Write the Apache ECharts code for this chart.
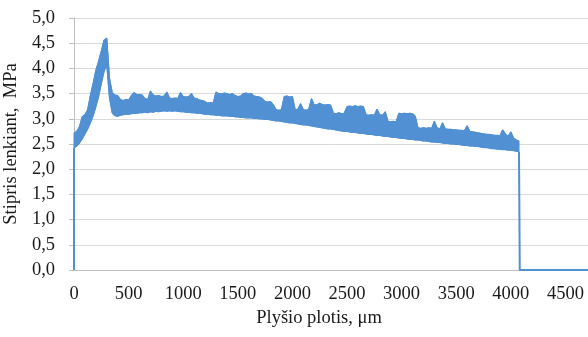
<!DOCTYPE html>
<html>
<head>
<meta charset="utf-8">
<script src="https://cdn.jsdelivr.net/npm/echarts@6/dist/echarts.min.js"></script>
<style>
  html, body { margin: 0; padding: 0; background: #fff; }
  #chart { width: 588px; height: 337px; }
</style>
</head>
<body>
<div id="chart"></div>
<script>
// slit width, µm (sampled every 25 µm)
const widthUm = [
  0, 25, 50, 75, 100, 125, 150, 175, 200, 225, 250, 275, 300, 325, 350, 375,
  400, 425, 450, 475, 500, 525, 550, 575, 600, 625, 650, 675, 700, 725, 750, 775,
  800, 825, 850, 875, 900, 925, 950, 975, 1000, 1025, 1050, 1075, 1100, 1125, 1150, 1175,
  1200, 1225, 1250, 1275, 1300, 1325, 1350, 1375, 1400, 1425, 1450, 1475, 1500, 1525, 1550, 1575,
  1600, 1625, 1650, 1675, 1700, 1725, 1750, 1775, 1800, 1825, 1850, 1875, 1900, 1925, 1950, 1975,
  2000, 2025, 2050, 2075, 2100, 2125, 2150, 2175, 2200, 2225, 2250, 2275, 2300, 2325, 2350, 2375,
  2400, 2425, 2450, 2475, 2500, 2525, 2550, 2575, 2600, 2625, 2650, 2675, 2700, 2725, 2750, 2775,
  2800, 2825, 2850, 2875, 2900, 2925, 2950, 2975, 3000, 3025, 3050, 3075, 3100, 3125, 3150, 3175,
  3200, 3225, 3250, 3275, 3300, 3325, 3350, 3375, 3400, 3425, 3450, 3475, 3500, 3525, 3550, 3575,
  3600, 3625, 3650, 3675, 3700, 3725, 3750, 3775, 3800, 3825, 3850, 3875, 3900, 3925, 3950, 3975,
  4000, 4025, 4050, 4075
];

// lower edge of the noisy stress band, MPa
const stressLow = [
  2.42, 2.46, 2.52, 2.60, 2.70, 2.80, 2.92, 3.06, 3.24, 3.44, 3.70, 3.94, 4.08, 3.42, 3.12, 3.06,
  3.05, 3.07, 3.08, 3.09, 3.09, 3.10, 3.11, 3.11, 3.12, 3.12, 3.13, 3.12, 3.14, 3.13, 3.15, 3.14,
  3.15, 3.16, 3.15, 3.16, 3.15, 3.16, 3.15, 3.14, 3.14, 3.13, 3.13, 3.12, 3.12, 3.11, 3.11, 3.10,
  3.09, 3.09, 3.08, 3.08, 3.07, 3.07, 3.06, 3.06, 3.06, 3.05, 3.05, 3.04, 3.04, 3.03, 3.03, 3.02,
  3.02, 3.02, 3.01, 3.01, 3.00, 3.00, 2.99, 2.99, 2.98, 2.97, 2.96, 2.96, 2.95, 2.94, 2.93, 2.92,
  2.92, 2.91, 2.90, 2.89, 2.88, 2.88, 2.87, 2.86, 2.85, 2.84, 2.83, 2.82, 2.81, 2.80, 2.80, 2.79,
  2.78, 2.77, 2.76, 2.75, 2.75, 2.74, 2.73, 2.73, 2.72, 2.71, 2.71, 2.70, 2.69, 2.69, 2.68, 2.67,
  2.67, 2.66, 2.65, 2.65, 2.64, 2.63, 2.63, 2.62, 2.61, 2.61, 2.60, 2.59, 2.59, 2.58, 2.58, 2.57,
  2.56, 2.56, 2.55, 2.54, 2.54, 2.53, 2.53, 2.52, 2.51, 2.51, 2.50, 2.50, 2.49, 2.49, 2.48, 2.47,
  2.47, 2.46, 2.46, 2.45, 2.45, 2.44, 2.43, 2.43, 2.42, 2.41, 2.41, 2.40, 2.40, 2.39, 2.39, 2.38,
  2.38, 2.37, 2.36, 2.35
];

// upper edge of the band (with the spikes), MPa
const stressHigh = [
  2.72, 2.75, 2.84, 3.04, 3.08, 3.18, 3.46, 3.70, 3.96, 4.14, 4.34, 4.56, 4.60, 3.80, 3.52, 3.47,
  3.46, 3.38, 3.36, 3.38, 3.37, 3.46, 3.52, 3.48, 3.48, 3.47, 3.40, 3.38, 3.55, 3.47, 3.45, 3.46,
  3.44, 3.45, 3.53, 3.41, 3.40, 3.41, 3.40, 3.52, 3.44, 3.43, 3.44, 3.50, 3.41, 3.40, 3.37, 3.36,
  3.34, 3.31, 3.32, 3.31, 3.53, 3.50, 3.49, 3.51, 3.50, 3.48, 3.50, 3.46, 3.44, 3.45, 3.50, 3.51,
  3.49, 3.50, 3.45, 3.44, 3.43, 3.40, 3.34, 3.33, 3.34, 3.28, 3.18, 3.17, 3.18, 3.44, 3.45, 3.43,
  3.44, 3.18, 3.19, 3.30, 3.18, 3.17, 3.19, 3.40, 3.27, 3.28, 3.31, 3.28, 3.27, 3.28, 3.27, 3.11,
  3.10, 3.12, 3.10, 3.11, 3.24, 3.25, 3.24, 3.26, 3.24, 3.25, 3.24, 3.08, 3.07, 3.08, 3.07, 3.19,
  3.08, 3.07, 3.14, 2.95, 2.94, 2.95, 2.94, 3.11, 3.10, 3.11, 3.10, 3.11, 3.10, 3.05, 2.82, 2.81,
  2.82, 2.81, 2.82, 2.81, 2.95, 2.82, 2.80, 2.92, 2.80, 2.79, 2.79, 2.78, 2.78, 2.77, 2.77, 2.76,
  2.86, 2.75, 2.74, 2.73, 2.72, 2.71, 2.70, 2.69, 2.69, 2.68, 2.67, 2.67, 2.66, 2.78, 2.70, 2.65,
  2.74, 2.62, 2.58, 2.56
];

// rise at the start and the drop to zero at the end
const edgeX = [0, 0, '-', 4075, 4082, 5000];
const edgeY = [0, 2.42, '-', 2.35, 0, 0];

const xTicks = [0, 500, 1000, 1500, 2000, 2500, 3000, 3500, 4000, 4500];
const yTicks = [0, 0.5, 1, 1.5, 2, 2.5, 3, 3.5, 4, 4.5, 5];

const lineColor = '#5090d3';
const textColor = '#1a1a1a';
const fontFamily = '"Liberation Serif", "Times New Roman", serif';

const bandData = widthUm.map((x, i) => [x, stressLow[i], stressHigh[i]]);
const lowData = widthUm.map((x, i) => [x, stressLow[i]]);
const highData = widthUm.map((x, i) => [x, stressHigh[i]]);
const edgeData = edgeX.map((x, i) => (x === '-' ? '-' : [x, edgeY[i]]));

// the whole band is one polygon: upper edge forward, lower edge back
const renderBand = (params, api) => {
  if (params.dataIndex !== 0) return null;
  const top = bandData.map((d) => api.coord([d[0], d[2]]));
  const bottom = bandData.map((d) => api.coord([d[0], d[1]])).reverse();
  return {
    type: 'polygon',
    shape: { points: top.concat(bottom) },
    style: { fill: lineColor, stroke: lineColor, lineWidth: 1 },
    silent: true,
  };
};

const chart = echarts.init(document.getElementById('chart'), null, { renderer: 'canvas' });

const option = {
  animation: false,
  backgroundColor: '#fff',
  textStyle: { fontFamily: fontFamily, color: textColor },
  grid: {
    left: 74,
    top: 18,
    right: -32,
    bottom: 67,
    containLabel: false,
    outerBoundsMode: 'none',
  },
  xAxis: {
    type: 'value',
    min: 0,
    max: 5000,
    interval: 500,
    name: 'Plyšio plotis, μm',
    nameLocation: 'middle',
    nameGap: 37,
    nameTextStyle: {
      fontFamily: fontFamily,
      fontSize: 18.5,
      color: textColor,
      padding: [0, 56, 0, 0],
    },
    axisLine: { lineStyle: { color: '#bfbfbf', width: 1 } },
    axisTick: { show: false },
    axisLabel: {
      margin: 15,
      fontFamily: fontFamily,
      fontSize: 18.5,
      color: textColor,
      formatter: (v) => (xTicks.includes(v) ? String(v) : ''),
    },
    splitLine: { show: false },
  },
  yAxis: {
    type: 'value',
    min: 0,
    max: 5,
    interval: 0.5,
    name: 'Stipris lenkiant,  MPa',
    nameLocation: 'middle',
    nameGap: 44,
    nameTextStyle: {
      fontFamily: fontFamily,
      fontSize: 18.5,
      color: textColor,
    },
    axisLine: { show: true, lineStyle: { color: '#bfbfbf', width: 1 } },
    axisTick: { show: true, inside: false, length: 5, lineStyle: { color: '#bfbfbf' } },
    axisLabel: {
      margin: 19,
      fontFamily: fontFamily,
      fontSize: 18.5,
      color: textColor,
      formatter: (v) => (yTicks.includes(v) ? v.toFixed(1).replace('.', ',') : ''),
    },
    splitLine: { show: true, lineStyle: { color: '#d9d9d9', width: 1 } },
  },
  series: [
    {
      name: 'band',
      type: 'custom',
      renderItem: renderBand,
      data: bandData,
      encode: { x: 0, y: [1, 2] },
      silent: true,
    },
    {
      name: 'low',
      type: 'line',
      data: lowData,
      showSymbol: false,
      symbol: 'none',
      lineStyle: { color: lineColor, width: 1.2 },
      silent: true,
    },
    {
      name: 'high',
      type: 'line',
      data: highData,
      showSymbol: false,
      symbol: 'none',
      lineStyle: { color: lineColor, width: 1.2 },
      silent: true,
    },
    {
      name: 'edges',
      type: 'line',
      data: edgeData,
      showSymbol: false,
      symbol: 'none',
      connectNulls: false,
      lineStyle: { color: lineColor, width: 2 },
      silent: true,
    },
  ],
};

chart.setOption(option);
</script>
</body>
</html>
